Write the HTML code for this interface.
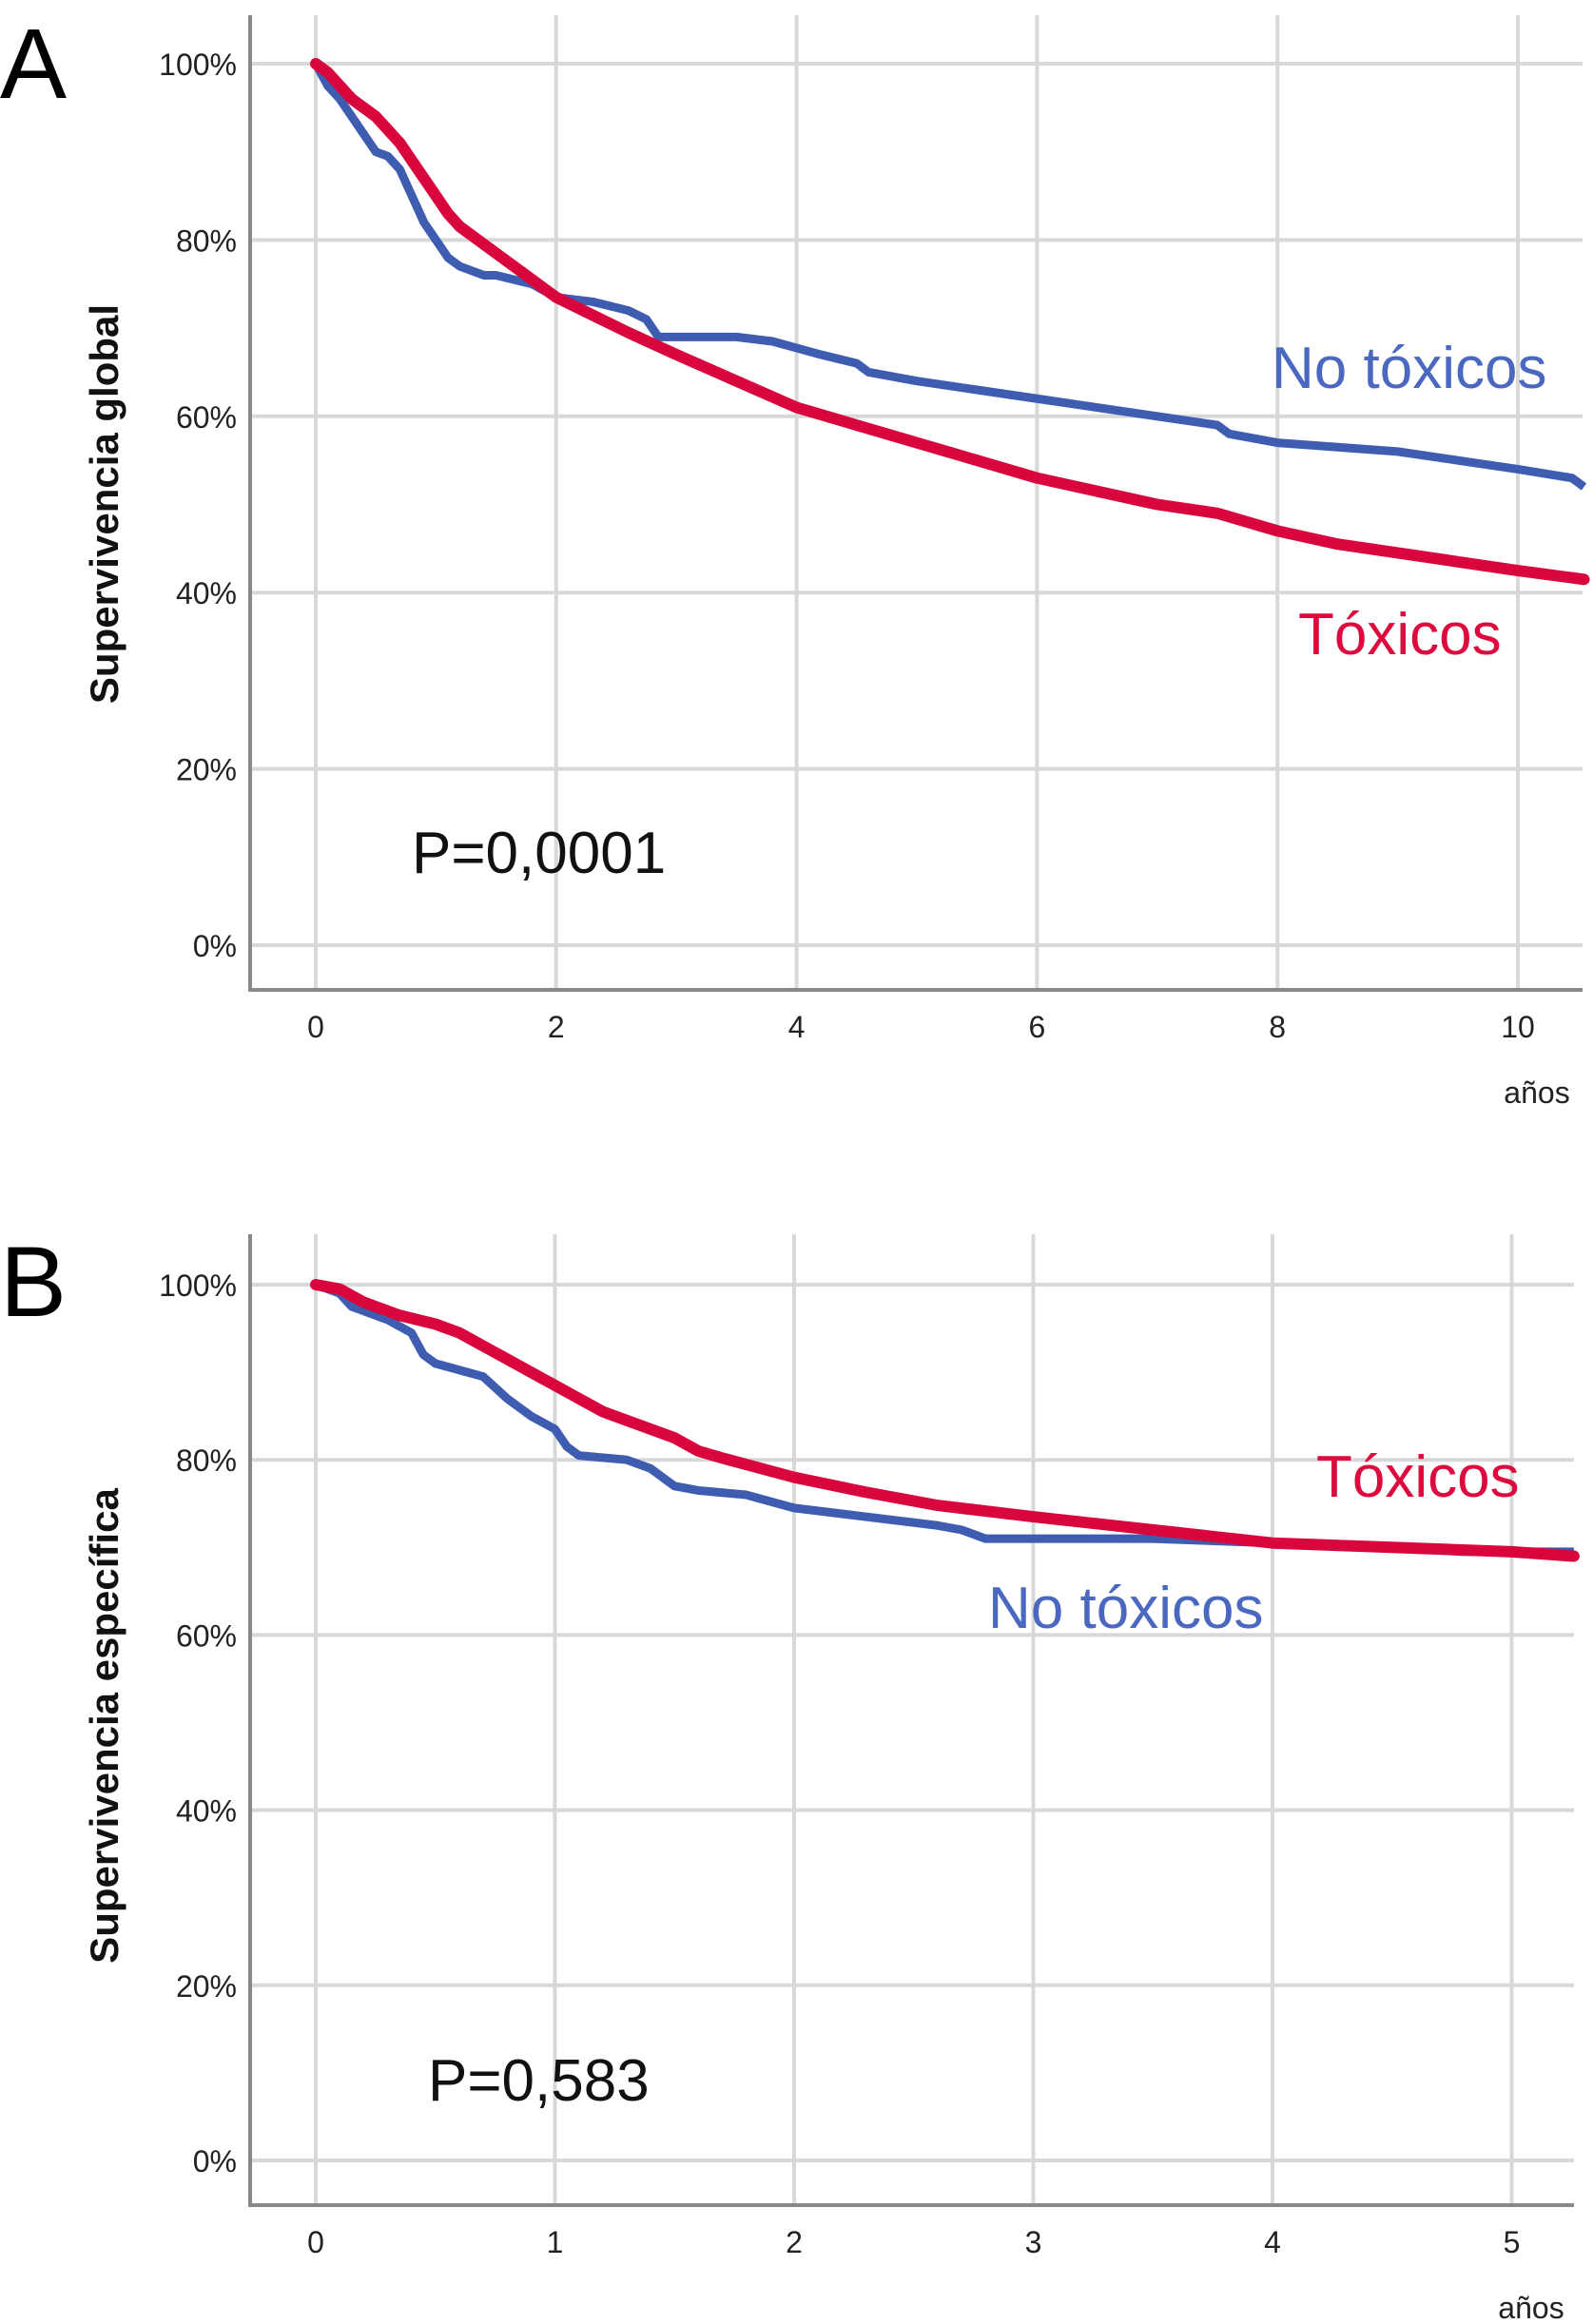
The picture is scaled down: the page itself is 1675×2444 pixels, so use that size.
<!DOCTYPE html>
<html><head><meta charset="utf-8">
<style>
html,body{margin:0;padding:0;background:#fff;}
svg{display:block;}
.tick{font-family:"Liberation Sans Narrow","Liberation Sans",sans-serif;font-size:32px;fill:#222;}
.ytitle{font-family:"Liberation Sans",sans-serif;font-weight:bold;font-size:42px;fill:#111;}
.ann{font-family:"Liberation Sans",sans-serif;font-size:62px;}
.panel{font-family:"Liberation Sans",sans-serif;font-size:105px;fill:#000;}
</style></head>
<body>
<svg id="chart" width="1675" height="2444" viewBox="0 0 1675 2444" xmlns="http://www.w3.org/2000/svg">
<text x="0" y="103" class="panel">A</text>
<text x="0" y="1384" class="panel">B</text>
<g id="panelA"></g>
<g id="panelB"></g>
</svg>
<script>
// Panel A data (years, survival %)
const aXTicks = [0, 2, 4, 6, 8, 10];
const aYTicks = [0, 20, 40, 60, 80, 100];
const aBlueT = [0,0.1,0.2,0.3,0.4,0.5,0.6,0.7,0.8,0.9,1.0,1.1,1.2,1.4,1.5,1.8,2.0,2.3,2.6,2.75,2.85,3.5,3.8,4.2,4.5,4.6,5.0,5.5,6.0,6.5,7.0,7.5,7.6,8.0,8.5,9.0,9.5,10.0,10.45,10.55];
const aBlueS = [100,97.5,96,94,92,90,89.5,88,85,82,80,78,77,76,76,75,73.5,73,72,71,69,69,68.5,67,66,65,64,63,62,61,60,59,58,57,56.5,56,55,54,53,52];
const aRedT = [0,0.1,0.2,0.3,0.4,0.5,0.6,0.7,0.8,0.9,1.0,1.1,1.2,1.3,1.5,1.7,2.0,2.3,2.6,3.0,3.5,4.0,4.5,5.0,5.5,6.0,6.5,7.0,7.5,8.0,8.5,9.0,9.5,10.0,10.55];
const aRedS = [100,99,97.5,96,95,94,92.5,91,89,87,85,83,81.5,80.5,78.5,76.5,73.5,71.5,69.5,67,64,61,59,57,55,53,51.5,50,49,47,45.5,44.5,43.5,42.5,41.5];
// Panel B data
const bXTicks = [0, 1, 2, 3, 4, 5];
const bYTicks = [0, 20, 40, 60, 80, 100];
const bBlueT = [0,0.1,0.15,0.3,0.4,0.45,0.5,0.7,0.8,0.9,1.0,1.05,1.1,1.3,1.4,1.5,1.6,1.8,2.0,2.3,2.6,2.7,2.8,3.5,4.0,4.5,4.8,5.26];
const bBlueS = [100,99,97.5,96,94.5,92,91,89.5,87,85,83.5,81.5,80.5,80,79,77,76.5,76,74.5,73.5,72.5,72,71,71,70.5,70,69.5,69.5];
const bRedT = [0,0.1,0.2,0.35,0.5,0.6,0.7,0.8,0.9,1.0,1.1,1.2,1.3,1.5,1.6,1.7,2.0,2.3,2.6,3.0,3.5,4.0,4.5,5.0,5.26];
const bRedS = [100,99.5,98,96.5,95.5,94.5,93,91.5,90,88.5,87,85.5,84.5,82.5,81,80.2,78,76.3,74.8,73.5,72,70.5,70,69.5,69];

const NS = 'http://www.w3.org/2000/svg';
function mk(parent, tag, attrs){const e=document.createElementNS(NS,tag);for(const k in attrs)e.setAttribute(k,attrs[k]);parent.appendChild(e);return e;}

function drawPanel(g, cfg){
  const xs = v => cfg.x0 + v * cfg.pxPerX;
  const ys = v => cfg.y0 + (cfg.y100 - cfg.y0) * v / 100;
  cfg.xTicks.forEach(t=>{
    const l=mk(g,'line',{x1:xs(t),x2:xs(t),y1:cfg.top,y2:cfg.axisY,stroke:'#d8d8d8','stroke-width':4});
    
    
    const tx=mk(g,'text',{x:xs(t),y:cfg.axisY+50,'text-anchor':'middle',class:'tick'});
    tx.textContent=String(t);
    
    
  });
  cfg.yTicks.forEach(t=>{
    const l=mk(g,'line',{x1:cfg.axisX,x2:cfg.right,y1:ys(t),y2:ys(t),stroke:'#d8d8d8','stroke-width':4});
    
    
    const tx=mk(g,'text',{x:249,y:ys(t)+12,'text-anchor':'end',class:'tick'});
    tx.textContent=t+'%';
    
    
  });
  const ax=mk(g,'path',{d:`M${cfg.axisX},${cfg.top} V${cfg.axisY} H${cfg.right}`,fill:'none',stroke:'#888','stroke-width':4});
  
  
  function line(T,S){let d=`M${xs(T[0])},${ys(S[0])}`;for(let i=1;i<T.length;i++){d+=` L${xs(T[i])},${ys(S[i])}`;}return d;}
  const b=mk(g,'path',{d:line(cfg.blueT,cfg.blueS),fill:'none',stroke:'#3f5db0','stroke-width':9,'stroke-linejoin':'round'});
  
  
  const r=mk(g,'path',{d:line(cfg.redT,cfg.redS),fill:'none',stroke:'#d8063c','stroke-width':12,'stroke-linejoin':'round','stroke-linecap':'round'});
  
  
  const yt=mk(g,'text',{x:0,y:0,transform:`translate(124,${cfg.titleY}) rotate(-90)`,'text-anchor':'middle',class:'ytitle'});
  yt.textContent=cfg.title;
  
  
  const xt=mk(g,'text',{x:cfg.anosX,y:cfg.anosY,'text-anchor':'middle',class:'tick'});
  xt.textContent='años';
  
  
  cfg.labels.forEach(L=>{
    const t=mk(g,'text',{x:L.x,y:L.y,class:'ann',fill:L.c});
    t.textContent=L.t;
    
    
  });
}

drawPanel(document.getElementById('panelA'),{
  x0:332,pxPerX:126.4,y0:994,y100:67,top:16,axisY:1041,axisX:263,right:1664,
  xTicks:aXTicks,yTicks:aYTicks,blueT:aBlueT,blueS:aBlueS,redT:aRedT,redS:aRedS,
  title:'Supervivencia global',titleY:530,anosX:1616,anosY:1160,
  labels:[{x:1337,y:408,t:'No tóxicos',c:'#4a68c0',n:'no-toxicos-label'},
          {x:1365,y:688,t:'Tóxicos',c:'#dd0a3e',n:'toxicos-label'},
          {x:433,y:918,t:'P=0,0001',c:'#111',n:'p-value-label'}]
});
drawPanel(document.getElementById('panelB'),{
  x0:332,pxPerX:251.5,y0:2272,y100:1351,top:1298,axisY:2319,axisX:263,right:1655,
  xTicks:bXTicks,yTicks:bYTicks,blueT:bBlueT,blueS:bBlueS,redT:bRedT,redS:bRedS,
  title:'Supervivencia específica',titleY:1815,anosX:1610,anosY:2438,
  labels:[{x:1384,y:1574,t:'Tóxicos',c:'#dd0a3e',n:'toxicos-label'},
          {x:1039,y:1712,t:'No tóxicos',c:'#4a68c0',n:'no-toxicos-label'},
          {x:450,y:2209,t:'P=0,583',c:'#111',n:'p-value-label'}]
});
</script>
</body></html>
